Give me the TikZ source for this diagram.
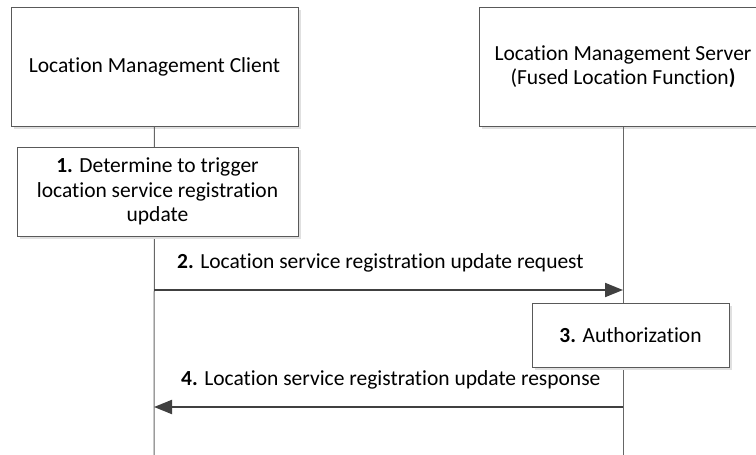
\documentclass[tikz,border=0pt]{standalone}
\usepackage{fontspec}
\setmainfont{Carlito}[Ligatures=NoCommon]
\usetikzlibrary{shadows,arrows.meta}

\tikzset{
  box/.style={draw=black!65, line width=1pt, fill=white, align=center,
    inner sep=0pt, font=\fontsize{21.5}{24.5}\selectfont,
    drop shadow={shadow xshift=3pt, shadow yshift=-3pt, fill=black!12, opacity=1}},
  life/.style={draw=black!60, line width=1pt},
  msg/.style={draw=black!75, line width=2pt, -{Triangle[length=18pt,width=14pt]}},
  lbl/.style={anchor=west, inner sep=0pt, font=\fontsize{21.5}{24.5}\selectfont}
}

\begin{document}
\begin{tikzpicture}[x=1pt, y=-1pt]
  \useasboundingbox (0,0) rectangle (756,455);
  \node[box, minimum width=287pt, minimum height=119pt] (client) at (154.5,66.5)
    {Location Management Client};
  \node[box, minimum width=288pt, minimum height=119pt] (server) at (623,66.5)
    {Location Management Server\\(Fused Location Function{\bfseries )}};
  \coordinate (cend) at (154,455);
  \coordinate (send) at (623,455);
  \draw[life] (client.south) -- (cend);
  \draw[life] (server.south) -- (send);
  \node[box, minimum width=281pt, minimum height=89pt] (trigger) at (157.5,191.5)
    {{\bfseries 1.} Determine to trigger\\location service registration\\update};
  \node[box, minimum width=197pt, minimum height=64pt] (auth) at (630.5,335)
    {{\bfseries 3.} Authorization};
  \coordinate (reqa) at (154,290);
  \coordinate (reqb) at (623,290);
  \coordinate (resa) at (154,407);
  \coordinate (resb) at (623,407);
  \draw[msg] (reqa) -- (reqb);
  \draw[msg] (resb) -- (resa);
  \node[lbl] (req) at (177,263) {{\bfseries 2.} Location service registration update request};
  \node[lbl] (res) at (181,380) {{\bfseries 4.} Location service registration update response};
\end{tikzpicture}
\end{document}
